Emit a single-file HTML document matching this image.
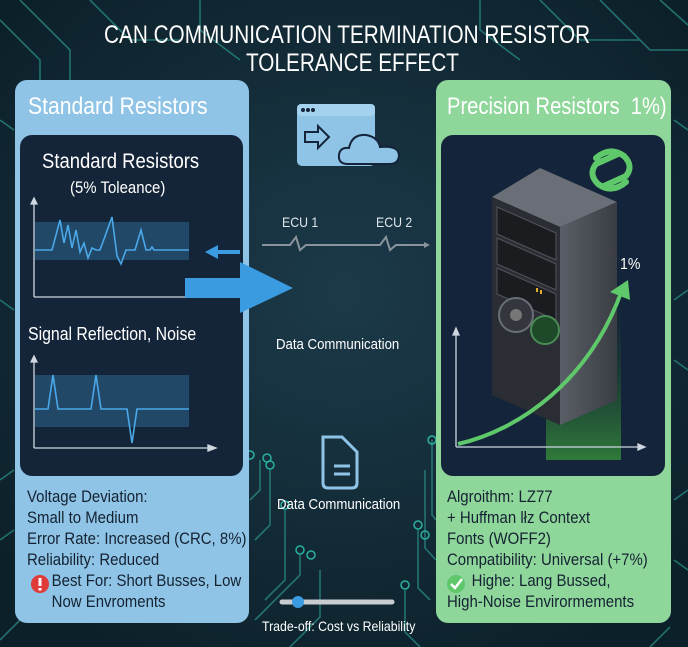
<!DOCTYPE html>
<html><head><meta charset="utf-8"><style>
body{margin:0;width:688px;height:647px;overflow:hidden;background:#10262f;font-family:"Liberation Sans",sans-serif}
svg{position:absolute;left:0;top:0}
.t{position:absolute;font-family:"Liberation Sans",sans-serif;white-space:nowrap;transform:scaleX(0.88);transform-origin:left top}
</style></head><body>
<svg width="688" height="647" viewBox="0 0 688 647">
<defs>
<radialGradient id="bg" cx="50%" cy="45%" r="65%"><stop offset="0" stop-color="#1c3a4a"/><stop offset="1" stop-color="#0c2029"/></radialGradient>
<linearGradient id="sv" x1="0" x2="1"><stop offset="0" stop-color="#5a5e66"/><stop offset="1" stop-color="#3a3d44"/></linearGradient>
<linearGradient id="gr" x1="0" y1="1" x2="0" y2="0"><stop offset="0" stop-color="#2f7a3a"/><stop offset="1" stop-color="#1a3a2a" stop-opacity="0"/></linearGradient>
</defs>
<rect width="688" height="647" fill="url(#bg)"/>
<g stroke="#2a8c86" stroke-width="1.6" fill="none" opacity="0.75">
<path d="M0 20 L40 60 L40 80 M20 0 L70 50 L70 80 M90 0 L130 40 L180 40 M200 0 L200 30 L240 60 M480 0 L480 30 L520 60 M540 0 L580 40 L640 40 M600 0 L650 50 L688 50 M660 0 L688 25 M0 120 L14 130 M0 300 L14 310 M0 480 L14 470 M0 540 L14 530"/>
<path d="M674 120 L688 130 M674 300 L688 290 M674 360 L688 370 M674 500 L688 490 M674 560 L688 570"/>
<path d="M250 500 L260 490 L260 460 M255 540 L270 525 L270 470 M265 600 L285 580 L285 510 M255 620 L300 575 L300 555 M290 647 L320 617 L320 570 M420 647 L405 632 L405 590 M430 600 L418 588 L418 530 M436 560 L425 548 L425 470 M436 520 L432 515 L432 440 M0 640 L40 600 M650 647 L670 627"/>
</g>
<g fill="none" stroke="#2ab0a0" stroke-width="1.5">
<circle cx="267" cy="458" r="4"/><circle cx="270" cy="465" r="4"/><circle cx="285" cy="505" r="4"/><circle cx="300" cy="550" r="4"/><circle cx="311" cy="555" r="4"/><circle cx="405" cy="585" r="4"/><circle cx="418" cy="525" r="4"/><circle cx="425" cy="535" r="4"/><circle cx="432" cy="440" r="4"/><circle cx="250" cy="455" r="4"/>
</g>
<!-- left panel -->
<rect x="15" y="80" width="234" height="543" rx="12" fill="#8fc4e6"/>
<rect x="20" y="135" width="223" height="341" rx="12" fill="#152539"/>
<!-- right panel -->
<rect x="436" y="80" width="235" height="543" rx="12" fill="#8fd69b"/>
<rect x="441" y="135" width="224" height="341" rx="12" fill="#14243a"/>
<!-- left chart 1 -->
<rect x="35" y="222" width="154" height="38" fill="#244d6e" opacity="0.9"/>
<g stroke="#cfd8e0" stroke-width="1.3" fill="#cfd8e0"><line x1="34" y1="200" x2="34" y2="297"/><line x1="34" y1="297" x2="205" y2="297"/><path d="M31 204 L34 198 L37 204Z"/></g>
<polyline points="35,250 52,250 56,235 60,220 64,243 68,225 72,248 76,230 80,252 84,243 88,258 92,248 96,250 100,250 112,217 117,256 121,264 126,250 135,250 141,230 146,250 150,250 152,247 154,250 189,250" fill="none" stroke="#4aa8e8" stroke-width="1.6"/>
<path d="M218 250 L240 250 L240 254 L218 254 L218 259 L205 252 L218 245Z" fill="#3b9be0"/>
<path d="M185 278 L240 278 L240 262 L293 288 L240 313 L240 298 L185 298Z" fill="#3b9be0"/>
<!-- left chart 2 -->
<rect x="35" y="375" width="154" height="52" fill="#244d6e" opacity="0.9"/>
<g stroke="#cfd8e0" stroke-width="1.3" fill="#cfd8e0"><line x1="34" y1="357" x2="34" y2="448"/><line x1="34" y1="448" x2="213" y2="448"/><path d="M31 362 L34 356 L37 362Z"/><path d="M208 445 L216 448 L208 451Z"/></g>
<polyline points="35,409 48,409 53,375 58,409 91,409 96,375 101,409 127,409 132,443 137,409 189,409" fill="none" stroke="#4aa8e8" stroke-width="1.6"/>
<!-- right chart -->
<rect x="546" y="300" width="75" height="160" fill="url(#gr)"/>
<polygon points="492,197 540,168 617,202 560,227" fill="#6a6e76"/>
<polygon points="560,227 617,202 617,400 560,425" fill="url(#sv)"/>
<polygon points="492,197 560,227 560,425 492,395" fill="#2a2d33"/>
<g fill="#1a1c20" stroke="#50545a" stroke-width="1"><polygon points="497,207 556,233 556,260 497,234"/><polygon points="497,238 556,264 556,290 497,264"/><polygon points="497,268 556,294 556,320 497,294"/></g>
<circle cx="516" cy="315" r="17" fill="#33363c" stroke="#6a6e76" stroke-width="2"/><circle cx="516" cy="315" r="6" fill="#777"/>
<circle cx="545" cy="330" r="14" fill="#1f4a2a" stroke="#4a8a55" stroke-width="2"/>
<rect x="536" y="288" width="2" height="4" fill="#e0b030"/><rect x="540" y="290" width="2" height="4" fill="#e0b030"/>
<g stroke="#cfd8e0" stroke-width="1.3" fill="#cfd8e0"><line x1="456" y1="330" x2="456" y2="447"/><line x1="456" y1="447" x2="643" y2="447"/><path d="M453 335 L456 328 L459 335Z"/><path d="M638 444 L645 447 L638 450Z"/></g>
<path d="M458 444 C520 430 590 380 622 290" fill="none" stroke="#5ec86b" stroke-width="4"/>
<path d="M610 292 L628 280 L630 300Z" fill="#5ec86b"/>
<g fill="none" stroke="#5ec86b" stroke-width="6" stroke-linejoin="round" stroke-linecap="round">
<path d="M596 158 Q610 146 624 156 Q634 166 626 176 L604 186"/>
<path d="M626 182 Q612 194 598 184 Q588 174 596 164 L618 154"/>
</g>
<!-- center icons -->
<rect x="297" y="104" width="78" height="62" rx="5" fill="#8fc4e6"/>
<rect x="297" y="104" width="78" height="12" rx="4" fill="#a4d2ee"/>
<circle cx="303" cy="110" r="2" fill="#14243a"/><circle cx="308" cy="110" r="2" fill="#14243a"/><circle cx="313" cy="110" r="2" fill="#14243a"/>
<path d="M305 132 L318 132 L318 126 L329 137 L318 148 L318 142 L305 142Z" fill="none" stroke="#14243a" stroke-width="2"/>
<path d="M348 164 Q338 164 339 155 Q340 147 349 148 Q352 134 366 135 Q378 137 380 147 Q399 145 399 156 Q398 164 390 164Z" fill="#8fc4e6" stroke="#14243a" stroke-width="2"/>
<g stroke="#8a949c" stroke-width="2" fill="none"><path d="M262 245 L290 245 L296 237 L300 250 L306 245 L380 245 L386 237 L390 250 L396 245 L426 245"/></g>
<path d="M424 242 L430 245 L424 248Z" fill="#8a949c"/>
<path d="M323 437 L342 437 L357 452 L357 483 Q357 488 352 488 L328 488 Q323 488 323 483Z" fill="none" stroke="#8fc4e6" stroke-width="3"/>
<path d="M334 466 L350 466 M334 474 L350 474" stroke="#8fc4e6" stroke-width="3"/>
<line x1="282" y1="602" x2="392" y2="602" stroke="#c8ccd0" stroke-width="5" stroke-linecap="round"/>
<circle cx="298" cy="602" r="6" fill="#3b9be0"/>
<circle cx="40" cy="584" r="9" fill="#e03a3a"/><rect x="38.5" y="578" width="3" height="8" fill="#fff"/><rect x="38.5" y="588" width="3" height="2.5" fill="#fff"/>
<circle cx="456" cy="584" r="9" fill="#5ec86b"/><path d="M451 584 L455 588 L462 579" fill="none" stroke="#fff" stroke-width="2.5"/>
</svg>
<div class="t" style="left:104px;top:21px;font-size:25px;color:#fff;transform:scaleX(0.83)">CAN COMMUNICATION TERMINATION RESISTOR</div>
<div class="t" style="left:246px;top:49px;font-size:25px;color:#fff;transform:scaleX(0.83)">TOLERANCE EFFECT</div>
<div class="t" style="left:28px;top:94px;font-size:24px;line-height:26px;color:#fff">Standard Resistors</div>
<div class="t" style="left:447px;top:94px;font-size:24px;line-height:26px;color:#fff;transform:scaleX(0.84)">Precision Resistors&nbsp; 1%)</div>
<div class="t" style="left:42px;top:150px;font-size:21px;color:#fff">Standard Resistors</div>
<div class="t" style="left:70px;top:178px;font-size:17px;color:#fff">(5% Toleance)</div>
<div class="t" style="left:28px;top:324px;font-size:18px;color:#fff">Signal Reflection, Noise</div>
<div class="t" style="left:282px;top:214px;font-size:14px;color:#e0e6ea">ECU 1</div>
<div class="t" style="left:376px;top:214px;font-size:14px;color:#e0e6ea">ECU 2</div>
<div class="t" style="left:276px;top:336px;font-size:15px;color:#fff">Data Communication</div>
<div class="t" style="left:277px;top:496px;font-size:15px;color:#fff">Data Communication</div>
<div class="t" style="left:262px;top:618px;font-size:14px;color:#fff">Trade-off: Cost vs Reliability</div>
<div class="t" style="left:620px;top:256px;font-size:16px;color:#fff">1%</div>
<div class="t" style="left:27px;top:486px;font-size:17px;line-height:21px;color:#142232">Voltage Deviation:<br>Small to Medium<br>Error Rate: Increased (CRC, 8%)<br>Reliability: Reduced<br><span style="padding-left:28px">Best For: Short Busses, Low</span><br><span style="padding-left:28px">Now Envroments</span></div>
<div class="t" style="left:447px;top:486px;font-size:17px;line-height:21px;color:#142232">Algroithm: LZ77<br>+ Huffman lłz Context<br>Fonts (WOFF2)<br>Compatibility: Universal (+7%)<br><span style="padding-left:28px">Highe: Lang Bussed,</span><br>High-Noise Envirormements</div>
</body></html>
